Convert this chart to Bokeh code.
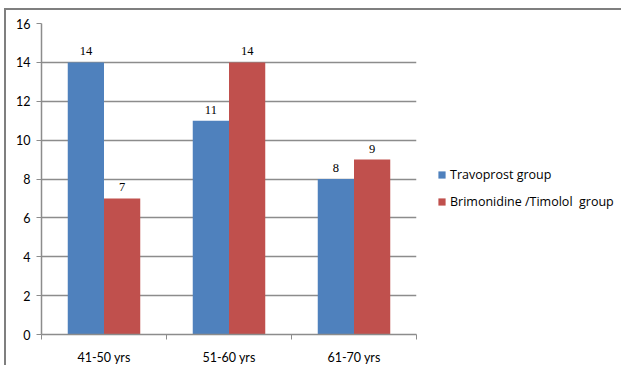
from bokeh.plotting import figure
from bokeh.models import (ColumnDataSource, FixedTicker, LabelSet, Legend, LegendItem)
from bokeh.embed import file_html
from bokeh.resources import INLINE

# Age groups and patient counts per treatment group
age_groups = ["41-50 yrs", "51-60 yrs", "61-70 yrs"]
travoprost = [14, 11, 8]
brimonidine_timolol = [7, 14, 9]
y_ticks = [0, 2, 4, 6, 8, 10, 12, 14, 16]

BLUE = "#4F81BD"
RED = "#C0504D"
GRID = "#8c8c8c"
FONT = "Lato"
TXT = "#000000"

bar_w = 0.29
centers = [i + 0.5 for i in range(len(age_groups))]

src_a = ColumnDataSource(dict(x=[c - bar_w / 2 for c in centers], top=travoprost,
                              label=[str(v) for v in travoprost]))
src_b = ColumnDataSource(dict(x=[c + bar_w / 2 for c in centers], top=brimonidine_timolol,
                              label=[str(v) for v in brimonidine_timolol]))

p = figure(width=615, height=357, x_range=(0, len(age_groups)), y_range=(0, 16),
           output_backend="svg", toolbar_location=None,
           min_border_left=35, min_border_right=0, min_border_top=13, min_border_bottom=31)
p.margin = (8, 0, 0, 4)
p.styles = {"border-top": "2px solid #7f7f7f", "border-left": "2px solid #7f7f7f"}
p.outline_line_color = None
p.background_fill_color = "white"
p.border_fill_color = "white"

r_a = p.vbar(x="x", top="top", width=bar_w, source=src_a, fill_color=BLUE, line_color=None)
r_b = p.vbar(x="x", top="top", width=bar_w, source=src_b, fill_color=RED, line_color=None)

for src in (src_a, src_b):
    p.add_layout(LabelSet(x="x", y="top", text="label", source=src, text_align="center",
                          text_baseline="bottom", y_offset=7, text_font=FONT,
                          text_font_size="12.5px", text_color=TXT))

# x axis: labels at category centres, tick marks at category boundaries
p.xaxis.ticker = FixedTicker(ticks=centers,
                             minor_ticks=list(range(len(age_groups) + 1)))
p.xaxis.major_label_overrides = {c: g for c, g in zip(centers, age_groups)}
p.xaxis.major_tick_out = 0
p.xaxis.major_tick_in = 0
p.xaxis.minor_tick_out = 5
p.xaxis.minor_tick_in = 0
p.xaxis.minor_tick_line_color = GRID
p.xaxis.major_label_standoff = 10

p.yaxis.ticker = FixedTicker(ticks=y_ticks)
p.yaxis.major_tick_out = 5
p.yaxis.major_tick_in = 0
p.yaxis.minor_tick_line_color = None
p.yaxis.major_label_standoff = 6

for ax in (p.xaxis, p.yaxis):
    ax.axis_line_color = GRID
    ax.axis_line_width = 1.5
    ax.major_tick_line_color = GRID
    ax.major_label_text_font = FONT
    ax.major_label_text_font_size = "12.5px"
    ax.major_label_text_color = TXT

p.xgrid.grid_line_color = None
p.ygrid.ticker = FixedTicker(ticks=y_ticks)
p.ygrid.grid_line_color = GRID
p.ygrid.grid_line_width = 1.5

# legend sits in its own panel to the right of the plot area
legend = Legend(items=[LegendItem(label="Travoprost group", renderers=[r_a]),
                       LegendItem(label="Brimonidine /Timolol  group", renderers=[r_b])],
                location=(21, 124), orientation="vertical",
                glyph_width=9, glyph_height=9, label_height=18, spacing=9,
                padding=0, margin=0, label_standoff=4,
                label_text_font="Open Sans", label_text_font_size="12.5px",
                label_text_color=TXT, border_line_color=None,
                background_fill_alpha=0)
p.add_layout(legend, "right")
p.frame_width = 375

open("out.html", "w").write(file_html(p, INLINE))
